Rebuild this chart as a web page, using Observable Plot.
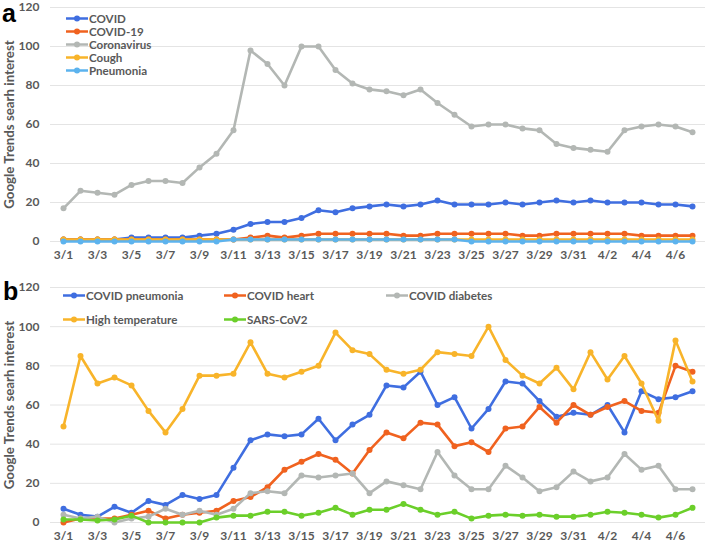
<!DOCTYPE html>
<html><head><meta charset="utf-8">
<script src="https://cdn.jsdelivr.net/npm/d3@7"></script>
<script src="https://cdn.jsdelivr.net/npm/@observablehq/plot@0.6"></script>
<style>
body{margin:0;background:#fff;font-family:Lato,sans-serif}
#wrap{position:relative;width:708px;height:547px;overflow:hidden}
#wrap svg{display:block}
.letter{position:absolute;font:bold 25px "Liberation Sans",Arial,sans-serif;color:#000;line-height:1}
.item{position:absolute;display:flex;align-items:center;white-space:nowrap;font:bold 11.6px/11px Lato,sans-serif;color:#595959;transform:translateY(-50%)}
.item svg{margin-right:1px}
</style></head><body><div id="wrap"></div><script>
const dates = ["3/1","3/2","3/3","3/4","3/5","3/6","3/7","3/8","3/9","3/10","3/11","3/12","3/13","3/14","3/15","3/16","3/17","3/18","3/19","3/20","3/21","3/22","3/23","3/24","3/25","3/26","3/27","3/28","3/29","3/30","3/31","4/1","4/2","4/3","4/4","4/5","4/6","4/7"];
const xTickLabels = ["3/1","3/3","3/5","3/7","3/9","3/11","3/13","3/15","3/17","3/19","3/21","3/23","3/25","3/27","3/29","3/31","4/2","4/4","4/6"];
const yTicks = [0,20,40,60,80,100,120];
const yTitle = "Google Trends searh interest";

// Panel a
const seriesA = ["COVID","COVID-19","Coronavirus","Cough","Pneumonia"];
const colorsA = ["#3f6ee0","#f0621f","#b3b7b4","#f8b42a","#5cb3ee"];
const covid = [1,1,1,1,2,2,2,2,3,4,6,9,10,10,12,16,15,17,18,19,18,19,21,19,19,19,20,19,20,21,20,21,20,20,20,19,19,18];
const covid19 = [1,1,1,1,1,1,1,1,1,1,1,2,3,2,3,4,4,4,4,4,3,3,4,4,4,4,4,3,3,4,4,4,4,4,3,3,3,3];
const coronavirus = [17,26,25,24,29,31,31,30,38,45,57,98,91,80,100,100,88,81,78,77,75,78,71,65,59,60,60,58,57,50,48,47,46,57,59,60,59,56];
const cough = [1,1,1,1,1,1,1,1,1,1,1,1,1,1,1,1,1,1,1,1,1,1,1,1,1,1,1,1,1,1,1,1,1,1,1,1,1,1];
const pneumonia = [0,0,0,0,0,0,0,0,0,0,1,1,1,1,1,1,1,1,1,1,1,1,1,1,0,0,0,0,0,0,0,0,0,0,0,0,0,0];

// Panel b
const seriesB = ["COVID pneumonia","COVID heart","COVID diabetes","High temperature","SARS-CoV2"];
const colorsB = ["#3f6ee0","#f0621f","#b3b7b4","#f8b42a","#6bcf2a"];
const covidPneumonia = [7,4,3,8,5,11,9,14,12,14,28,42,45,44,45,53,42,50,55,70,69,77,60,64,48,58,72,71,62,54,56,55,60,46,67,63,64,67];
const covidHeart = [0,2,2,2,4,6,2,4,5,6,11,13,18,27,31,35,32,25,37,46,43,51,50,39,41,36,48,49,59,51,60,55,59,62,57,56,80,77];
const covidDiabetes = [4,2,3,0,2,3,7,4,6,4,7,15,16,15,24,23,24,25,15,21,19,17,36,24,17,17,29,23,16,18,26,21,23,35,27,29,17,17];
const highTemperature = [49,85,71,74,70,57,46,58,75,75,76,92,76,74,77,80,97,88,86,78,76,78,87,86,85,100,83,75,71,79,68,87,73,85,71,52,93,72];
const sarsCov2 = [1.5,1.5,1,1.5,3.5,0,0,0,0,2.5,3.5,3.5,5.5,5.5,3.5,5,7.5,4,6.5,6.5,9.5,6.5,4,5.5,2,3.5,4,3.5,4,3,3,4,5.5,5,4,2.5,4,7.5];

function makePanel(names, values, colors, height, mt, mb) {
  const data = names.flatMap((s, k) => values[k].map((v, i) => ({date: dates[i], value: v, series: s})));
  const seriesMarks = names.flatMap(s => {
    const d = data.filter(r => r.series === s);
    return [
      Plot.line(d, {x: "date", y: "value", stroke: "series", strokeWidth: 2.6, strokeLinejoin: "round"}),
      Plot.dot(d, {x: "date", y: "value", fill: "series", r: 3})
    ];
  });
  return Plot.plot({
    width: 708, height, marginLeft: 50, marginRight: 3, marginTop: mt, marginBottom: mb,
    style: {fontFamily: "Lato, sans-serif", fontSize: "12px", fontWeight: "bold", color: "#595959", background: "#fff", overflow: "visible"},
    x: {type: "point", domain: dates, padding: 0.5},
    y: {domain: [0, 120]},
    color: {domain: names, range: colors},
    marks: [
      Plot.gridY(yTicks, {stroke: "#e4e4e4", strokeOpacity: 1, strokeWidth: 1}),
      Plot.axisY(yTicks, {tickSize: 0, tickPadding: 11, label: null, fill: "#595959"}),
      Plot.axisX(xTickLabels, {tickSize: 0, tickPadding: 9, label: null, fill: "#595959"}),
      Plot.text([yTitle], {frameAnchor: "left", textAnchor: "middle", rotate: -90, dx: -41, fontSize: 13.3, fontWeight: "bold", fill: "#595959"}),
      ...seriesMarks
    ]
  });
}

const wrap = document.getElementById("wrap");
wrap.appendChild(makePanel(seriesA, [covid, covid19, coronavirus, cough, pneumonia], colorsA, 266, 7, 25));
wrap.appendChild(makePanel(seriesB, [covidPneumonia, covidHeart, covidDiabetes, highTemperature, sarsCov2], colorsB, 281, 21, 25));

function letter(t, x, y) {
  const d = document.createElement("div");
  d.className = "letter"; d.textContent = t;
  d.style.left = x + "px"; d.style.top = y + "px";
  wrap.appendChild(d);
}
letter("a", 2, 1);
letter("b", 3, 279);

function legendItem(name, color, x, y) {
  const d = document.createElement("div");
  d.className = "item";
  d.style.left = x + "px"; d.style.top = y + "px";
  const ns = "http://www.w3.org/2000/svg";
  const s = document.createElementNS(ns, "svg");
  s.setAttribute("width", 22); s.setAttribute("height", 10);
  const l = document.createElementNS(ns, "line");
  l.setAttribute("x1", 0); l.setAttribute("x2", 22); l.setAttribute("y1", 5); l.setAttribute("y2", 5);
  l.setAttribute("stroke", color); l.setAttribute("stroke-width", 2.6);
  const c = document.createElementNS(ns, "circle");
  c.setAttribute("cx", 11); c.setAttribute("cy", 5); c.setAttribute("r", 3); c.setAttribute("fill", color);
  s.appendChild(l); s.appendChild(c);
  d.appendChild(s);
  const sp = document.createElement("span"); sp.textContent = name;
  d.appendChild(sp);
  wrap.appendChild(d);
}
const legAY = [18, 31, 44, 57, 70];
seriesA.forEach((s, i) => legendItem(s, colorsA[i], 66, legAY[i]));
const legBX = [63, 224, 386];
const legBY = [295, 319];
seriesB.forEach((s, i) => legendItem(s, colorsB[i], legBX[i % 3], legBY[Math.floor(i / 3)]));
</script></body></html>
